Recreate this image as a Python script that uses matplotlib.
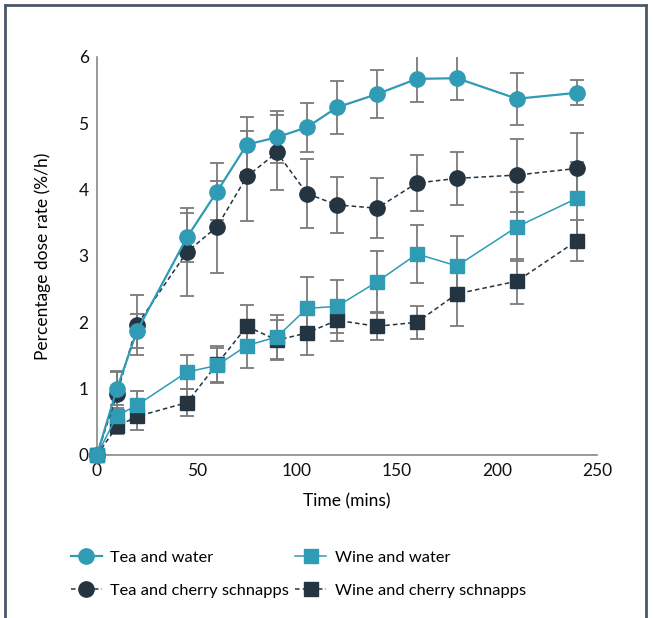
import matplotlib
matplotlib.use("Agg")
import matplotlib.pyplot as plt
from matplotlib.lines import Line2D

plt.rcParams['font.family'] = ['Lato', 'DejaVu Sans']

time = [0, 10, 20, 45, 60, 75, 90, 105, 120, 140, 160, 180, 210, 240]

tea_water = [0, 1.0, 1.87, 3.28, 3.97, 4.68, 4.79, 4.94, 5.24, 5.44, 5.67, 5.68, 5.37, 5.46]
tea_water_err = [0, 0.25, 0.25, 0.37, 0.43, 0.41, 0.39, 0.37, 0.40, 0.36, 0.35, 0.33, 0.39, 0.19]

tea_schnapps = [0, 0.92, 1.96, 3.06, 3.44, 4.20, 4.56, 3.94, 3.77, 3.72, 4.10, 4.17, 4.22, 4.32]
tea_schnapps_err = [0, 0.35, 0.45, 0.66, 0.69, 0.68, 0.56, 0.52, 0.42, 0.45, 0.42, 0.40, 0.55, 0.53]

wine_water = [0, 0.59, 0.75, 1.25, 1.35, 1.65, 1.78, 2.21, 2.24, 2.61, 3.03, 2.85, 3.44, 3.87]
wine_water_err = [0, 0.12, 0.22, 0.25, 0.27, 0.34, 0.33, 0.47, 0.40, 0.46, 0.43, 0.45, 0.52, 0.55]

wine_schnapps = [0, 0.43, 0.58, 0.79, 1.37, 1.94, 1.73, 1.84, 2.03, 1.94, 2.00, 2.43, 2.62, 3.23]
wine_schnapps_err = [0, 0.12, 0.20, 0.21, 0.27, 0.32, 0.30, 0.34, 0.31, 0.20, 0.25, 0.48, 0.34, 0.31]

TEAL = '#2f9bb5'
DARK = '#243441'
ERR = '#7b7b7b'

fig = plt.figure(figsize=(6.53, 6.18), dpi=100)
ax = fig.add_axes([0.1485, 0.2638, 0.7657, 0.644])

series = [
    (tea_water, tea_water_err, TEAL, 'o', '-', 1.6, 11, 'Tea and water', 6),
    (tea_schnapps, tea_schnapps_err, DARK, 'o', (0, (3, 2)), 1.1, 11, 'Tea and cherry schnapps', 5),
    (wine_water, wine_water_err, TEAL, 's', '-', 1.1, 10, 'Wine and water', 4),
    (wine_schnapps, wine_schnapps_err, DARK, 's', (0, (3, 2)), 1.1, 10, 'Wine and cherry schnapps', 3),
]

for vals, errs, col, mk, ls, lw, ms, lab, z in series:
    ax.errorbar(time, vals, yerr=errs, fmt='none', ecolor=ERR, elinewidth=1.3,
                capsize=5, capthick=1.3, zorder=1)
for vals, errs, col, mk, ls, lw, ms, lab, z in series:
    ax.plot(time, vals, color=col, linestyle=ls, linewidth=lw, marker=mk,
            markersize=ms, markeredgecolor=col, zorder=z, clip_on=False)

ax.set_xlim(0, 250)
ax.set_ylim(0, 6)
ax.set_xticks([0, 50, 100, 150, 200, 250])
ax.set_yticks([0, 1, 2, 3, 4, 5, 6])
ax.tick_params(length=0, labelsize=12.5, pad=6, colors='#111111')
for s in ['top', 'right']:
    ax.spines[s].set_visible(False)
for s in ['left', 'bottom']:
    ax.spines[s].set_color('#888888')
    ax.spines[s].set_linewidth(1.2)

ax.set_xlabel('Time (mins)', fontsize=12.5, labelpad=10)
ax.set_ylabel('Percentage dose rate (%/h)', fontsize=12.5, labelpad=20)

handles = []
for vals, errs, col, mk, ls, lw, ms, lab, z in series:
    handles.append(Line2D([0], [0], color=col, linestyle=ls, linewidth=lw,
                          marker=mk, markersize=ms, markeredgecolor=col, label=lab))
fig.legend(handles=handles, loc='upper left', bbox_to_anchor=(0.108, 0.109), ncol=2,
           frameon=False, fontsize=11.8, handlelength=1.9, columnspacing=0.4,
           handletextpad=0.5, labelspacing=1.1, borderpad=0, borderaxespad=0)

# outer frame
fr = '#4d5866'
fig.add_artist(Line2D([0.008, 0.008], [0.0, 0.992], transform=fig.transFigure, color=fr, lw=2))
fig.add_artist(Line2D([0.008, 0.989], [0.992, 0.992], transform=fig.transFigure, color=fr, lw=2))
fig.add_artist(Line2D([0.989, 0.989], [0.0, 0.992], transform=fig.transFigure, color=fr, lw=2))

fig.savefig('out.png', dpi=100, facecolor='white')
